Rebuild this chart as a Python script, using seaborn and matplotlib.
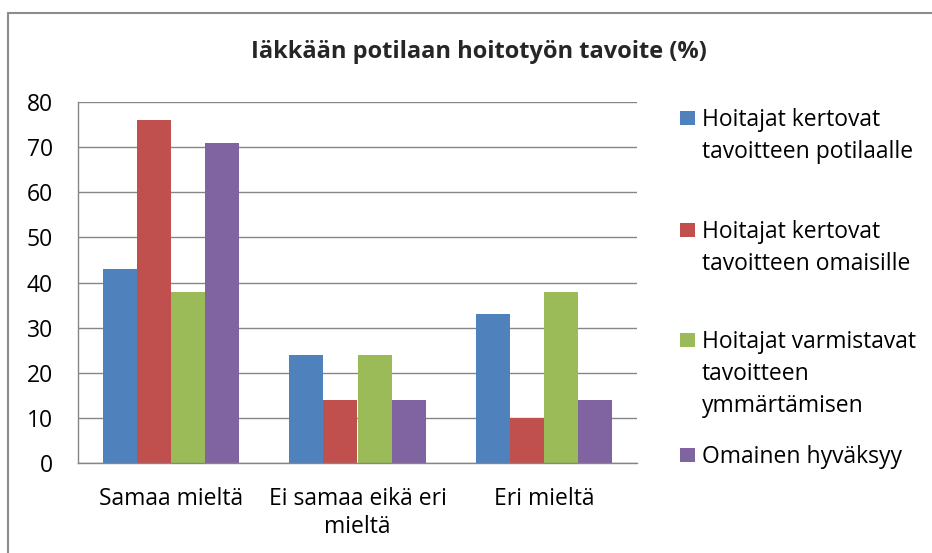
import matplotlib
matplotlib.use("Agg")
import matplotlib.pyplot as plt
import seaborn as sns
import pandas as pd
from matplotlib.lines import Line2D
from matplotlib.patches import Rectangle

categories = ["Samaa mieltä", "Ei samaa eikä eri\nmieltä", "Eri mieltä"]
series_names = [
    "Hoitajat kertovat\ntavoitteen potilaalle",
    "Hoitajat kertovat\ntavoitteen omaisille",
    "Hoitajat varmistavat\ntavoitteen\nymmärtämisen",
    "Omainen hyväksyy",
]
s1 = [43, 24, 33]
s2 = [76, 14, 10]
s3 = [38, 24, 38]
s4 = [71, 14, 14]
colors = ["#4F81BD", "#C0504D", "#9BBB59", "#8064A2"]
yticks = [0, 10, 20, 30, 40, 50, 60, 70, 80]
title = "Iäkkään potilaan hoitotyön tavoite (%)"

rows = []
for name, vals in zip(series_names, [s1, s2, s3, s4]):
    for c, v in zip(categories, vals):
        rows.append({"cat": c, "series": name, "value": v})
df = pd.DataFrame(rows)

sns.set_theme(style="white")
plt.rcParams["font.family"] = ["Open Sans", "DejaVu Sans"]

FS = 16.5
W, H = 932, 553

fig = plt.figure(figsize=(9.32, 5.53), dpi=100)
ax = fig.add_axes([78/W, 1-463/H, (637-78)/W, (463-102)/H])

sns.barplot(data=df, x="cat", y="value", hue="series", order=categories,
            hue_order=series_names, palette=colors, width=0.73,
            saturation=1, ax=ax, legend=False, linewidth=0)

ax.set_ylim(0, 80)
ax.set_yticks(yticks)
ax.set_xlim(-0.5, 2.5)
ax.set_xlabel("")
ax.set_ylabel("")
ax.yaxis.grid(True, color="#868686", linewidth=1.0)
ax.set_axisbelow(True)
for side in ["top", "right"]:
    ax.spines[side].set_visible(False)
for side in ["left", "bottom"]:
    ax.spines[side].set_color("#868686")
    ax.spines[side].set_linewidth(1.0)
ax.tick_params(axis="y", length=0, pad=18, labelsize=FS, colors="black")
ax.tick_params(axis="x", length=0, pad=17, labelsize=FS, colors="black")
for lab in ax.get_xticklabels():
    lab.set_linespacing(1.22)

# legend (manual, squares aligned with the first text line as in Excel)
entry_y = [118, 230, 340, 455]
line_step = 32
for name, col, y0 in zip(series_names, colors, entry_y):
    fig.add_artist(Rectangle((680/W, 1-(y0+7)/H), 15/W, 14/H,
                             transform=fig.transFigure, facecolor=col,
                             edgecolor="none"))
    for i, line in enumerate(name.split("\n")):
        fig.text(702/W, 1-(y0 + i*line_step + 8)/H, line, ha="left",
                 va="baseline", fontsize=FS, color="black")

fig.text(479/W, 1-52/H, title, ha="center", va="center", fontsize=17,
         fontweight="bold")

fig.add_artist(Line2D([8/W, 8/W], [0, 1-13/H], transform=fig.transFigure,
                      color="#8c8c8c", linewidth=1.5))
fig.add_artist(Line2D([8/W, 1], [1-13/H, 1-13/H], transform=fig.transFigure,
                      color="#8c8c8c", linewidth=1.5))

fig.savefig("out.png", dpi=100)
